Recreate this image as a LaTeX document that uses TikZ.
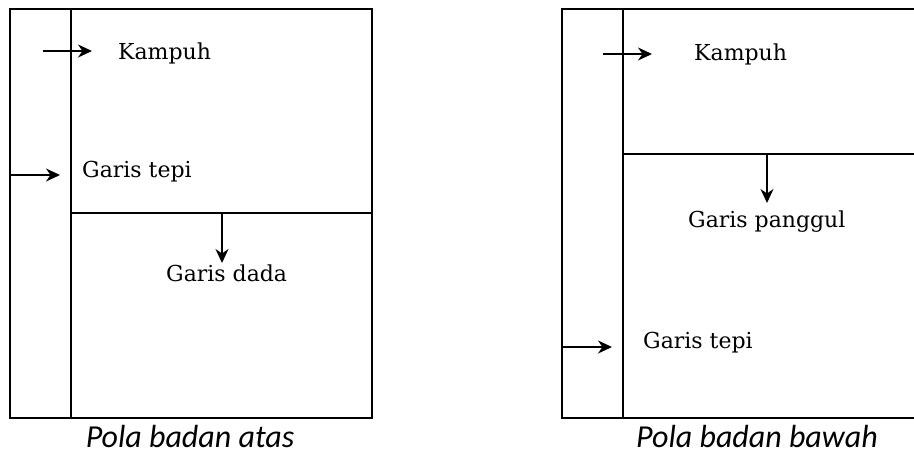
\documentclass[tikz,border=0pt]{standalone}
\usepackage{fontspec}
\setmainfont{DejaVu Serif}
\newfontfamily\captionfont{Carlito}
\usetikzlibrary{arrows.meta}

\tikzset{
  outline/.style={line width=2pt, line cap=rect},
  pointer/.style={line width=1.8pt, -{Stealth[length=14pt,width=13pt,inset=4.5pt]}},
  label/.style={anchor=base west, inner sep=0pt, font=\fontsize{22}{26}\selectfont},
  caption/.style={anchor=base, inner sep=0pt, text depth=0pt,
    font=\captionfont\itshape\fontsize{32}{36}\selectfont},
}

\begin{document}
\begin{tikzpicture}[x=1pt, y=-1pt]
  \useasboundingbox (0,0) rectangle (914,455);
  \clip (0,0) rectangle (914,455);

  % --- upper body pattern ---
  \draw[outline] (10,9) rectangle (372,418);
  \draw[outline] (71,10) -- (71,416);
  \draw[outline] (71,213) -- (371,213);

  \coordinate (a-k-start) at (43,51);
  \coordinate (a-k-end)   at (92,51);
  \coordinate (a-t-start) at (10,175);
  \coordinate (a-t-end)   at (60,175);
  \coordinate (a-d-start) at (222,212);
  \coordinate (a-d-end)   at (222,263);

  \draw[pointer] (a-k-start) -- (a-k-end);
  \draw[pointer] (a-t-start) -- (a-t-end);
  \draw[pointer] (a-d-start) -- (a-d-end);

  \node[label] (a-kampuh) at (118,59) {Kampuh};
  \node[label] (a-tepi)   at (82,177) {Garis tepi};
  \node[label] (a-dada)   at (166,281) {Garis dada};
  \node[caption] (a-cap)  at (190,447) {Pola badan atas};

  % --- lower body pattern (runs off the right edge) ---
  \draw[outline] (930,9) -- (562,9) -- (562,418) -- (930,418);
  \draw[outline] (623,10) -- (623,416);
  \draw[outline] (623,154) -- (930,154);

  \coordinate (b-k-start) at (603,54);
  \coordinate (b-k-end)   at (652,54);
  \coordinate (b-t-start) at (562,347);
  \coordinate (b-t-end)   at (612,347);
  \coordinate (b-p-start) at (767,153);
  \coordinate (b-p-end)   at (767,203);

  \draw[pointer] (b-k-start) -- (b-k-end);
  \draw[pointer] (b-t-start) -- (b-t-end);
  \draw[pointer] (b-p-start) -- (b-p-end);

  \node[label] (b-kampuh)  at (694,60) {Kampuh};
  \node[label] (b-panggul) at (688,227) {Garis panggul};
  \node[label] (b-tepi)    at (643,348) {Garis tepi};
  \node[caption] (b-cap)   at (757,447) {Pola badan bawah};
\end{tikzpicture}
\end{document}
